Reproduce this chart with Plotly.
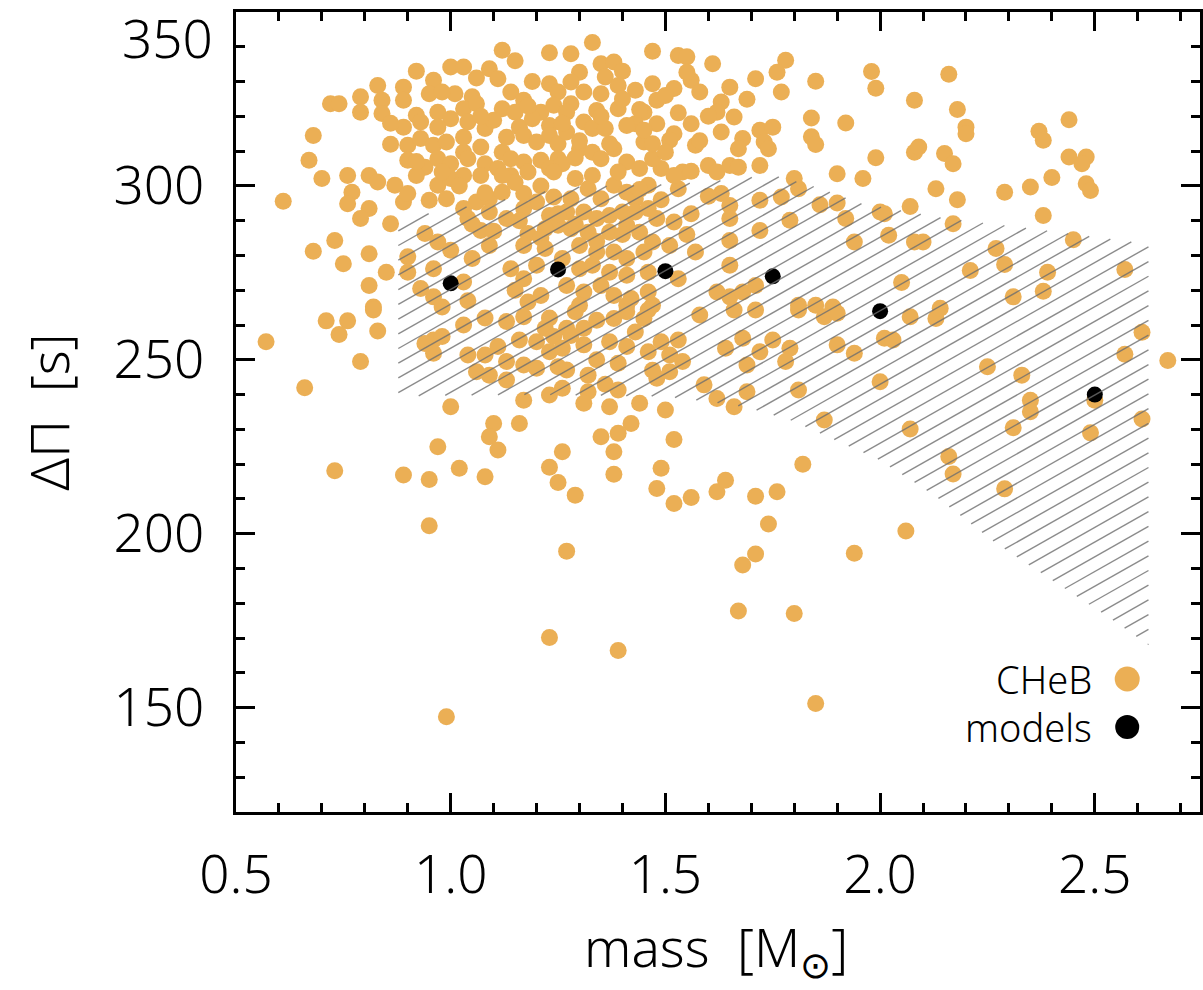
import numpy as np
import plotly.graph_objects as go

# ---------------- data ----------------
# CHeB stars, grouped by region of the plot
cheb_mass_a = [1.12,1.23,1.00,1.03,1.09,1.11,0.96,1.23,0.83,0.89,
               0.79,0.95,1.01,1.05,1.14,1.17,1.25,0.72,0.74,0.84,
               0.89,1.03,1.06,0.79,0.84,0.92,0.97,1.00,1.12,1.15,
               1.21,1.24,0.89,0.93,0.97,1.04,1.08,1.10,1.16,1.19,
               1.23,0.68,0.90,0.93,0.96,0.99,1.03,1.07,1.12,1.17,
               1.20,1.23,1.25,0.67,0.90,0.94,0.97,1.00,1.04,1.08,
               1.14,1.17,1.21,1.25,0.70,0.76,0.81,0.83,0.87,0.92,
               0.97,1.00,1.03,1.07,1.11,1.14,1.18,1.23,1.26,0.61,
               0.77,0.76,0.81,0.89,0.90,0.95,0.99,1.03,1.06,1.09,
               1.12,1.17,1.20,1.24,0.79,0.86,1.04,1.09,1.13,1.17,
               1.23,1.25,1.07,1.18,1.22,0.73,0.68,0.81,0.90,0.94,
               0.97,1.00,1.05,1.09,1.17,0.75,0.85,0.90,0.96,1.03,
               1.14,1.17,1.20,0.81,0.93,0.96,0.82,0.98,1.18,1.21]
cheb_dpi_a = [339.0,338.3,334.2,334.2,333.7,330.8,330.4,329.4,328.9,328.4,
              325.6,326.5,326.5,325.6,327.0,324.6,327.0,323.6,323.6,324.6,
              324.6,322.2,323.6,321.2,320.8,320.3,321.2,319.3,322.2,321.2,
              321.2,323.2,316.9,318.4,316.9,318.4,316.5,318.9,316.9,319.3,
              317.4,314.5,311.7,313.6,311.7,312.6,309.7,311.2,309.7,314.5,
              312.6,314.5,312.1,307.4,307.4,305.4,307.8,306.4,307.8,306.4,
              307.8,306.9,307.4,307.8,302.1,303.0,303.0,301.1,300.2,303.0,
              300.2,302.1,303.0,303.0,305.0,303.0,304.0,305.0,306.4,295.6,
              298.2,294.9,293.5,295.4,297.8,295.9,296.3,293.5,295.4,296.3,
              298.2,297.8,295.4,296.8,290.6,289.1,290.6,292.5,290.6,293.5,
              291.5,288.7,287.2,286.3,287.7,284.3,281.2,280.5,279.6,286.3,
              283.9,281.5,279.1,282.9,282.9,277.6,275.2,275.2,276.2,272.4,
              276.2,273.3,277.2,271.4,270.5,268.1,265.2,265.2,266.6,268.5]

cheb_mass_b = [1.33,1.47,1.53,1.55,1.61,1.78,1.76,1.98,1.99,1.85,
               1.35,1.38,1.30,1.36,1.28,1.39,1.43,1.47,1.52,1.56,
               1.55,1.65,1.71,1.77,1.35,1.48,1.39,1.45,1.28,
               1.63,1.62,1.69,1.66,1.84,1.92,1.43,1.48,1.56,1.63,
               1.52,1.51,1.57,1.45,1.68,1.67,1.72,1.75,1.73,1.74,
               1.84,1.85,1.99,1.49,1.54,1.56,1.60,1.62,1.65,1.67,
               1.72,1.90,1.96,1.80,1.81,1.53,1.63,1.72,1.77,1.86,
               1.90,1.92,1.65,1.65,1.65,1.72,1.79,1.94,1.57,1.65,
               1.53,1.62,1.65,1.68,1.71,1.81,1.85,1.89,1.47,2.00,
               1.27,1.31,1.33,1.36,1.30,1.33,1.35,1.38,1.41,1.44,
               1.47,1.29,1.32,1.35,1.38,1.41,1.43,1.46,1.28,
               1.27,1.31,1.34,1.37,1.40,1.43,1.46,1.48,1.52,1.28,
               1.32,1.37,1.41,1.44,1.47,1.51,1.30,1.34,1.38,1.41,
               1.45,1.26,1.30,1.33,1.37,1.41,1.46,1.27,1.31,1.35,
               1.38,1.42,1.46,1.30,1.41,1.27,1.34,1.41,1.47,1.37,
               1.50]
cheb_dpi_b = [341.2,338.7,337.5,337.1,335.1,336.1,332.7,332.9,328.1,330.1,
              335.1,335.6,332.7,331.3,329.9,328.9,327.5,329.4,328.0,330.4,
              332.7,328.4,330.8,327.0,326.5,324.6,322.2,321.2,323.6,
              324.1,321.2,324.9,319.8,319.5,318.1,317.9,317.9,317.9,315.5,
              315.0,313.1,311.7,312.6,313.6,310.7,316.0,316.9,312.6,310.7,
              314.1,311.9,308.1,305.0,304.0,304.2,305.9,304.0,305.9,305.4,
              305.9,303.5,302.1,302.1,299.2,299.2,297.8,295.9,296.8,294.6,
              295.1,290.6,294.4,290.6,284.3,287.2,290.1,283.9,281.0,277.2,
              273.3,269.5,268.1,269.5,271.4,265.7,265.7,265.2,265.7,292.5,
              315.5,318.4,316.5,316.5,310.7,309.7,307.8,310.7,306.9,305.0,
              307.8,302.1,299.2,296.3,300.2,298.2,296.3,300.2,296.3,
              292.5,292.5,290.6,291.5,292.5,292.5,293.5,290.6,289.6,287.7,
              286.7,286.7,288.7,286.7,283.9,282.9,282.9,281.0,281.0,279.1,
              281.0,279.1,276.2,277.2,275.2,274.3,275.2,271.4,269.5,271.4,
              268.5,267.6,269.5,265.7,265.7,321.2,321.7,317.4,312.1,312.1,
              309.7]

cheb_mass_c = [2.16,2.08,2.18,2.20,2.20,2.44,2.37,2.38,
               2.08,2.09,2.15,2.17,2.44,2.48,2.47,2.40,2.35,
               2.29,2.48,2.49,2.13,2.18,2.07,2.01,2.38,2.17,2.02,
               2.08,2.10,2.45,2.27,2.29,2.21,2.39,2.57,2.05,2.38,
               2.31]
cheb_dpi_c = [332.1,324.6,322.0,316.9,315.0,319.0,315.7,313.1,
              309.7,311.2,309.3,306.4,308.3,308.3,306.4,302.4,299.7,
              298.2,300.6,298.7,299.2,296.0,294.1,292.0,291.5,289.1,285.8,
              283.9,283.9,284.5,282.0,277.4,275.7,275.2,276.0,272.2,269.7,
              268.1]

cheb_mass_d = [0.57,0.71,0.76,0.74,0.82,0.83,0.79,0.66,0.96,0.98,
               0.96,0.94,1.03,1.04,1.08,1.11,1.06,1.09,1.13,1.17,
               1.22,1.24,1.16,1.20,1.23,1.13,1.17,1.20,1.25,1.13,
               1.26,1.00,1.17,1.23,1.10,1.16,1.09,1.11,0.97,0.73,
               0.89,0.95,1.02,1.08,1.23,1.25,0.95,1.23,0.99,1.26]
cheb_dpi_d = [255.2,261.2,261.2,257.3,264.3,258.3,249.5,242.0,255.7,256.7,
              251.9,254.7,260.0,251.4,251.4,253.8,246.6,245.6,261.0,262.4,
              259.1,256.7,255.7,255.2,252.3,249.5,248.5,247.6,248.0,244.2,
              241.8,236.5,238.4,239.9,231.7,231.7,227.9,224.1,225.0,218.1,
              216.9,215.6,218.8,216.4,219.1,214.7,202.3,170.2,147.4,223.6]

cheb_mass_e = [1.29,1.27,1.31,1.34,1.38,1.41,1.46,1.45,1.26,1.31,
               1.37,1.41,1.46,1.49,1.53,1.27,1.32,1.39,1.51,1.54,
               1.48,1.51,1.32,1.39,1.31,1.37,1.44,1.50,1.42,
               1.35,1.39,1.52,1.38,1.38,1.49,1.29,1.48,
               1.52,1.56,1.62,1.64,1.71,1.76,1.74,1.82,1.27,1.71,
               1.68,1.94,1.67,1.80,1.39,1.85,1.58,1.66,1.71,1.81,
               1.87,1.90,1.64,1.68,1.75,1.72,1.69,1.79,1.78,1.90,
               1.94,2.01,1.59,1.62,1.66,1.69,1.81,1.87,2.00]
cheb_dpi_e = [263.8,259.1,259.1,261.4,261.9,263.8,264.3,261.9,253.3,254.3,
              255.2,253.8,252.3,255.2,255.7,247.1,245.6,249.0,251.4,249.5,
              244.7,246.6,240.8,241.3,237.5,236.5,237.5,235.6,231.7,
              227.9,228.9,227.1,223.6,217.1,218.8,211.1,213.0,
              208.7,210.4,212.1,215.4,210.8,212.1,202.8,220.0,195.0,194.2,
              191.0,194.4,177.8,177.1,166.4,151.2,262.9,264.3,264.3,264.3,
              262.4,263.4,253.3,256.2,255.7,252.3,248.5,253.3,249.5,254.3,
              251.9,256.2,242.8,238.9,236.5,240.8,241.3,232.7,243.7]

cheb_mass_f = [2.07,2.13,2.14,2.03,2.25,2.33,2.35,2.35,2.31,2.07,
               2.16,2.17,2.29,2.06,2.61,2.57,2.67,2.50,2.61,2.49]
cheb_dpi_f = [262.4,261.9,264.8,255.7,248.0,245.6,238.4,235.1,230.5,230.1,
              222.2,217.2,212.9,200.8,257.9,251.6,249.8,238.4,233.0,229.0]

# densest part of the cloud (stars hidden behind neighbours)
cheb_mass_g = [1.06,1.15,1.19,1.28,1.31,1.40,1.44,1.50,1.58,1.60,
               1.07,1.13,1.18,1.26,1.30,1.35,1.40,1.45,1.53,1.58,
               1.02,1.08,1.15,1.21,1.24,1.29,1.33,1.39,1.44,1.52,
               1.05,1.10,1.16,1.21,1.25,1.29,1.34,1.40,1.49,1.56,
               0.92,0.98,0.86,0.92,0.98,0.86,1.03,1.12,1.55,1.60,
               1.23,1.28,1.34,1.43,1.47,1.36,1.22,1.15,1.08,1.04]
cheb_dpi_g = [331.0,336.0,330.0,338.0,327.0,333.0,322.0,326.0,327.0,320.0,
              320.0,314.0,323.0,318.0,313.0,320.0,325.0,316.0,321.0,313.0,
              300.0,298.0,301.0,300.0,304.0,308.0,303.0,304.0,299.0,303.0,
              289.0,287.0,290.0,285.0,292.0,289.0,284.0,286.0,296.0,292.0,
              333.0,327.0,318.0,307.0,304.0,312.0,314.0,303.0,286.0,297.0,
              262.0,257.0,250.0,258.0,247.0,243.0,282.0,270.0,262.0,267.0]

# stellar models
model_mass = [1.0, 1.25, 1.5, 1.75, 2.0, 2.5]
model_dpi = [272.0, 276.0, 275.5, 274.0, 264.0, 240.0]

# hatched model band: upper and lower boundary
band_upper_mass = [0.878, 1.10, 1.27, 1.53, 1.67, 1.75, 1.85, 1.96, 2.16, 2.36, 2.625]
band_upper_dpi = [290.5, 295.4, 299.6, 300.5, 302.0, 303.1, 299.7, 294.8, 290.5, 287.6, 283.3]
band_lower_mass = [0.878, 1.20, 1.50, 1.66, 1.71, 1.79, 1.855, 1.92, 1.99, 2.126, 2.266, 2.428, 2.535, 2.625]
band_lower_dpi = [239.6, 240.0, 239.5, 237.0, 235.6, 232.7, 229.2, 225.5, 221.8, 211.1, 197.6, 184.4, 175.8, 168.0]

x_ticks = [0.5, 1.0, 1.5, 2.0, 2.5]
y_ticks = [150, 200, 250, 300, 350]
y_ticktext = ["150", "200", "250", "300", ""]

# ---------------- styling ----------------
ORANGE = "#EBAF55"
FONT = "Noto Sans"
WEIGHT = 300

cheb_mass = (cheb_mass_a + cheb_mass_b + cheb_mass_c + cheb_mass_d
             + cheb_mass_e + cheb_mass_f + cheb_mass_g)
cheb_dpi = (cheb_dpi_a + cheb_dpi_b + cheb_dpi_c + cheb_dpi_d
            + cheb_dpi_e + cheb_dpi_f + cheb_dpi_g)

fig = go.Figure()
fig.add_trace(go.Scatter(x=cheb_mass, y=cheb_dpi, mode="markers",
                         marker=dict(size=17, color=ORANGE, line=dict(width=0)),
                         showlegend=False, hoverinfo="skip"))
fig.add_trace(go.Scatter(x=model_mass, y=model_dpi, mode="markers",
                         marker=dict(size=16, color="black", line=dict(width=0)),
                         showlegend=False, hoverinfo="skip"))

# hatch lines clipped to the band
slope = 70.0      # s per Msun (direction of hatching)
spacing = 4.23    # s between hatch lines
c0 = 168.0 - slope * 2.621
mg = np.linspace(band_upper_mass[0], band_upper_mass[-1], 6000)
up = np.interp(mg, band_upper_mass, band_upper_dpi)
lo = np.interp(mg, band_lower_mass, band_lower_dpi)
hx, hy = [], []
cmin = (lo - slope * mg).min() - spacing
cmax = (up - slope * mg).max() + spacing
n0 = int(np.floor((cmin - c0) / spacing))
n1 = int(np.ceil((cmax - c0) / spacing))
for n in range(n0, n1 + 1):
    c = c0 + n * spacing
    ln = slope * mg + c
    inside = (ln <= up) & (ln >= lo)
    if not inside.any():
        continue
    idx = np.where(inside)[0]
    breaks = np.where(np.diff(idx) > 1)[0]
    starts = np.concatenate([[idx[0]], idx[breaks + 1]])
    ends = np.concatenate([idx[breaks], [idx[-1]]])
    for s, e in zip(starts, ends):
        if e - s < 2:
            continue
        hx += [mg[s], mg[e], None]
        hy += [ln[s], ln[e], None]
fig.add_trace(go.Scatter(x=hx, y=hy, mode="lines",
                         line=dict(color="rgba(110,110,110,0.8)", width=1.4),
                         showlegend=False, hoverinfo="skip"))

tickfont = dict(family=FONT, size=53, color="black", weight=WEIGHT)
axis_common = dict(showline=True, linewidth=3, linecolor="black", mirror="ticks",
                   ticks="inside", ticklen=19, tickwidth=2.5, tickcolor="black",
                   showgrid=False, zeroline=False, tickfont=tickfont)
fig.update_xaxes(range=[0.5, 2.745], tickvals=x_ticks, tickformat=".1f",
                 minor=dict(dtick=0.1, tick0=0.5, ticks="inside", ticklen=9,
                            tickwidth=2.5, tickcolor="black"),
                 ticklabelstandoff=14, **axis_common)
fig.update_yaxes(range=[120, 350], tickvals=y_ticks, ticktext=y_ticktext,
                 minor=dict(dtick=10, tick0=120, ticks="inside", ticklen=9,
                            tickwidth=2.5, tickcolor="black"),
                 ticklabelstandoff=18, **axis_common)

annotations = [
    dict(text="350", x=0, xref="paper", y=350, yref="y", xanchor="right",
         yanchor="middle", xshift=-21, yshift=-25, showarrow=False, font=tickfont),
    dict(text="ΔΠ\u00a0\u00a0[s]", textangle=-90, x=-0.1954, xref="paper", y=0.5, yref="paper",
         xanchor="center", yanchor="middle", showarrow=False,
         font=dict(family=FONT, size=53, color="black", weight=WEIGHT)),
    dict(text="mass\u00a0\u00a0[M<sub>⊙</sub>]", x=0.4984, xref="paper", y=-0.172, yref="paper",
         xanchor="center", yanchor="middle", showarrow=False,
         font=dict(family=FONT, size=53, color="black", weight=WEIGHT)),
    dict(text="CHeB", x=0.8904, xref="paper", y=0.16625, yref="paper",
         xanchor="right", yanchor="middle", showarrow=False,
         font=dict(family=FONT, size=38, color="black", weight=WEIGHT)),
    dict(text="models", x=0.8904, xref="paper", y=0.10625, yref="paper",
         xanchor="right", yanchor="middle", showarrow=False,
         font=dict(family=FONT, size=38, color="black", weight=WEIGHT)),
]
shapes = [
    dict(type="circle", xref="paper", yref="paper", xsizemode="pixel", ysizemode="pixel",
         xanchor=0.9245, yanchor=0.16625, x0=-12.5, x1=12.5, y0=-12.5, y1=12.5,
         fillcolor=ORANGE, line=dict(width=0)),
    dict(type="circle", xref="paper", yref="paper", xsizemode="pixel", ysizemode="pixel",
         xanchor=0.9245, yanchor=0.10625, x0=-12, x1=12, y0=-12, y1=12,
         fillcolor="black", line=dict(width=0)),
]

fig.update_layout(width=1203, height=990, margin=dict(l=236, r=0, t=12, b=178),
                  paper_bgcolor="white", plot_bgcolor="white",
                  annotations=annotations, shapes=shapes, showlegend=False)

fig.write_html("out.html")
